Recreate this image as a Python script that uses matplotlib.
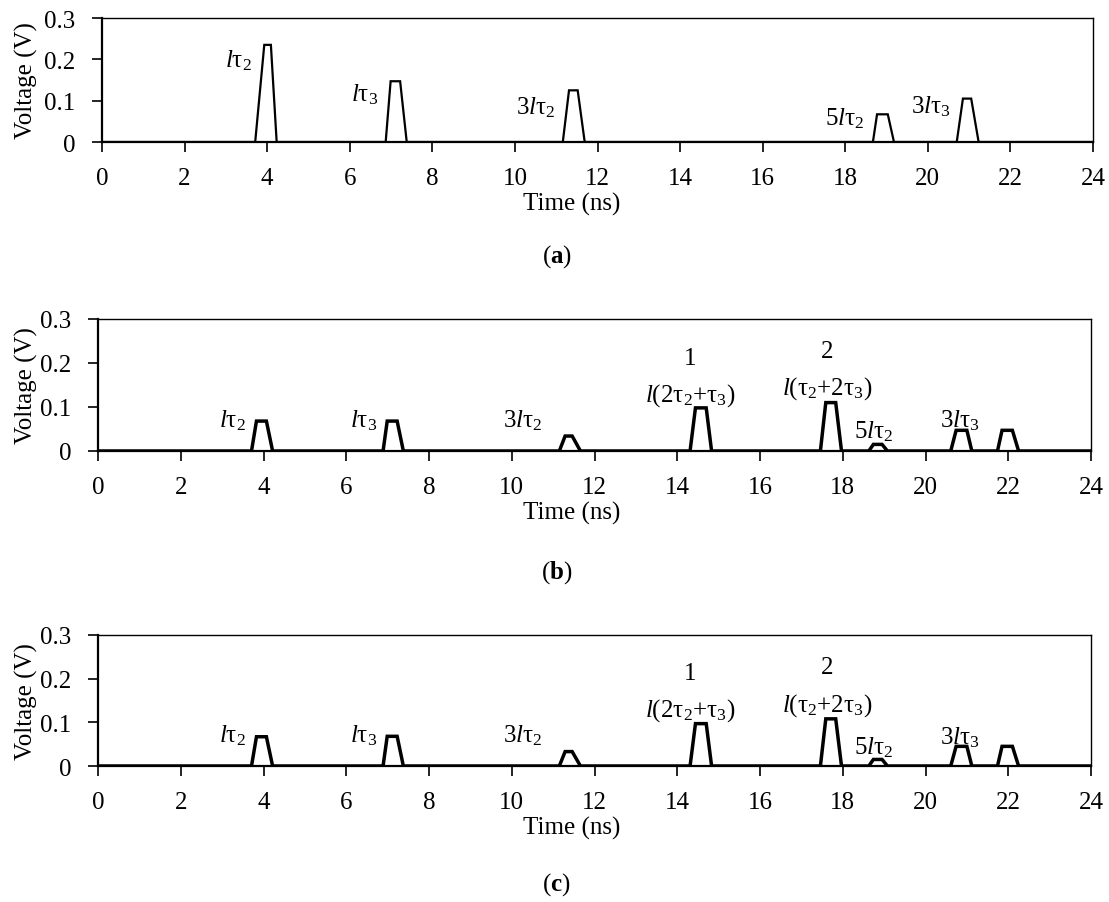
import matplotlib
matplotlib.use('Agg')
import matplotlib.pyplot as plt

plt.rcParams['font.family'] = ['Liberation Serif', 'DejaVu Serif']
plt.rcParams['mathtext.fontset'] = 'custom'
plt.rcParams['mathtext.rm'] = 'Liberation Serif'
plt.rcParams['mathtext.it'] = 'Liberation Serif:italic'
plt.rcParams['mathtext.bf'] = 'Liberation Serif:bold'

# Waveform vertices (time in ns, voltage in V)
t_a = [0, 3.71, 3.93, 4.09, 4.23, 6.87, 6.99, 7.22, 7.38, 11.16, 11.31, 11.52, 11.69,
       18.67, 18.77, 19.03, 19.18, 20.70, 20.85, 21.05, 21.23, 24]
v_a = [0, 0, 0.235, 0.235, 0, 0, 0.147, 0.147, 0, 0, 0.125, 0.125, 0,
       0, 0.067, 0.067, 0, 0, 0.105, 0.105, 0, 0]

t_b = [0, 3.71, 3.83, 4.07, 4.22, 6.89, 6.99, 7.23, 7.38, 11.15, 11.29, 11.46, 11.66,
       14.31, 14.44, 14.70, 14.83, 17.46, 17.59, 17.83, 17.97, 18.63, 18.74, 18.95, 19.08,
       20.61, 20.74, 21.00, 21.12, 21.74, 21.85, 22.10, 22.25, 24]
v_b = [0, 0, 0.068, 0.068, 0, 0, 0.068, 0.068, 0, 0, 0.034, 0.034, 0,
       0, 0.098, 0.098, 0, 0, 0.110, 0.110, 0, 0, 0.015, 0.015, 0,
       0, 0.047, 0.047, 0, 0, 0.047, 0.047, 0, 0]

t_c = t_b
v_c = [0, 0, 0.067, 0.067, 0, 0, 0.068, 0.068, 0, 0, 0.033, 0.033, 0,
       0, 0.097, 0.097, 0, 0, 0.108, 0.108, 0, 0, 0.015, 0.015, 0,
       0, 0.045, 0.045, 0, 0, 0.045, 0.045, 0, 0]

x_ticks = list(range(0, 25, 2))
y_ticks = [0, 0.1, 0.2, 0.3]
y_ticklabels = ['0', '0.1', '0.2', '0.3']

# label text, x, y, horizontal alignment
notes_a = [(r'$\mathit{l}$τ$_2$', 3.62, 0.200, 'right'),
           (r'$\mathit{l}$τ$_3$', 6.70, 0.117, 'right'),
           (r'3$\mathit{l}$τ$_2$', 10.97, 0.085, 'right'),
           (r'5$\mathit{l}$τ$_2$', 18.46, 0.058, 'right'),
           (r'3$\mathit{l}$τ$_3$', 20.56, 0.089, 'right')]

notes_b = [(r'$\mathit{l}$τ$_2$', 3.58, 0.072, 'right'),
           (r'$\mathit{l}$τ$_3$', 6.74, 0.072, 'right'),
           (r'3$\mathit{l}$τ$_2$', 10.75, 0.072, 'right'),
           ('1', 14.31, 0.212, 'center'),
           (r'$\mathit{l}$(2τ$_2$+τ$_3$)', 14.31, 0.129, 'center'),
           ('2', 17.63, 0.227, 'center'),
           (r'$\mathit{l}$(τ$_2$+2τ$_3$)', 17.63, 0.144, 'center'),
           (r'5$\mathit{l}$τ$_2$', 18.74, 0.047, 'center'),
           (r'3$\mathit{l}$τ$_3$', 20.83, 0.071, 'center')]

notes_c = [(r'$\mathit{l}$τ$_2$', 3.58, 0.072, 'right'),
           (r'$\mathit{l}$τ$_3$', 6.74, 0.072, 'right'),
           (r'3$\mathit{l}$τ$_2$', 10.75, 0.072, 'right'),
           ('1', 14.31, 0.212, 'center'),
           (r'$\mathit{l}$(2τ$_2$+τ$_3$)', 14.31, 0.129, 'center'),
           ('2', 17.63, 0.227, 'center'),
           (r'$\mathit{l}$(τ$_2$+2τ$_3$)', 17.63, 0.141, 'center'),
           (r'5$\mathit{l}$τ$_2$', 18.74, 0.045, 'center'),
           (r'3$\mathit{l}$τ$_3$', 20.83, 0.068, 'center')]

W, H = 1109, 903
fig = plt.figure(figsize=(W / 100, H / 100), dpi=100)

# axes boxes in pixels: left, top, right, bottom
panels = [
    (t_a, v_a, notes_a, (102, 19, 1093, 143), 1.6, r'($\mathbf{a}$)', 257),
    (t_b, v_b, notes_b, (98, 320, 1091, 452), 2.5, r'($\mathbf{b}$)', 573),
    (t_c, v_c, notes_c, (98, 636, 1091, 767), 2.5, r'($\mathbf{c}$)', 885),
]

fs = 18
for t, v, notes, (l, tp, r, b), lw, tag, tag_y in panels:
    ax = fig.add_axes([l / W, 1 - b / H, (r - l) / W, (b - tp) / H])
    ax.plot(t, v, color='black', linewidth=lw, solid_joinstyle='miter')
    ax.set_xlim(0, 24)
    ax.set_ylim(0, 0.3)
    ax.set_xticks(x_ticks)
    ax.set_yticks(y_ticks)
    ax.set_yticklabels(y_ticklabels)
    ax.tick_params(direction='out', length=7, width=1.2, labelsize=fs)
    ax.tick_params(axis='x', pad=11)
    ax.tick_params(axis='y', pad=12)
    for s in ax.spines.values():
        s.set_linewidth(1.0)
    ax.spines['left'].set_linewidth(1.6)
    ax.spines['bottom'].set_linewidth(1.6)
    h = b - tp
    ax.set_xlabel('Time (ns)', fontsize=fs)
    ax.xaxis.set_label_coords((572 - l) / (r - l), -50 / h)
    ax.set_ylabel('Voltage (V)', fontsize=fs)
    ax.yaxis.set_label_coords((38 - l) / (r - l), 0.5)
    for txt, x, y, ha in notes:
        ax.text(x, y, txt, fontsize=fs, ha=ha, va='center')
    fig.text(0.502, 1 - tag_y / H, tag, fontsize=fs, ha='center', va='center')

fig.savefig('out.png', dpi=100)
